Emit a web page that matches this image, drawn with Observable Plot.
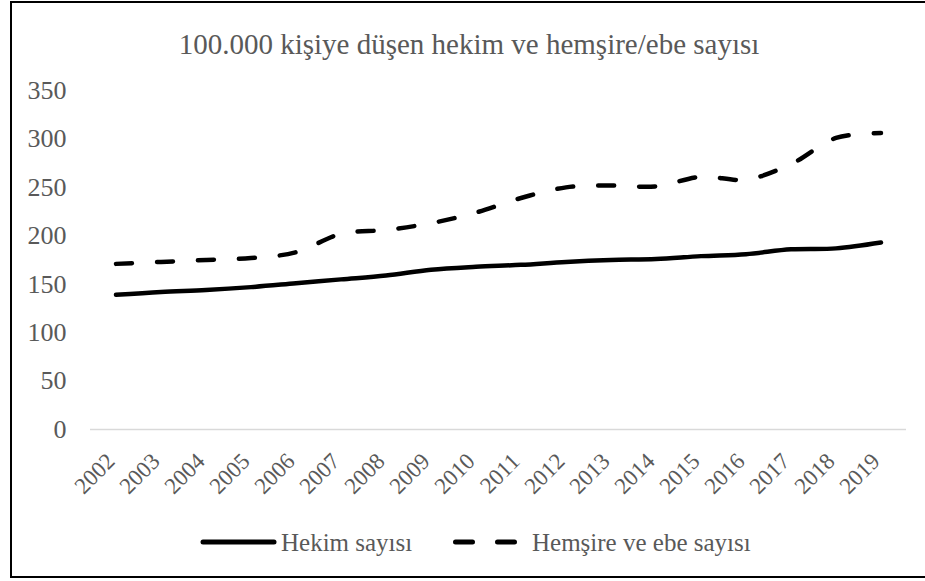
<!DOCTYPE html>
<html>
<head>
<meta charset="utf-8">
<script src="https://cdn.jsdelivr.net/npm/d3@7"></script>
<script src="https://cdn.jsdelivr.net/npm/@observablehq/plot@0.6"></script>
<style>
  html, body { margin: 0; padding: 0; background: #fff; }
  #wrap { position: relative; width: 925px; height: 581px; overflow: hidden; font-family: "Liberation Serif", serif; color: #595959; }
  #frame { position: absolute; left: 10px; top: 1px; width: 930px; height: 573px; border: 2px solid #000; }
  #title { position: absolute; left: 0; width: 938px; top: 30px; text-align: center; font-size: 29px; line-height: 28px; white-space: nowrap; }
  #chart { position: absolute; left: 0; top: 70px; }
  .leg { position: absolute; font-size: 25px; line-height: 24px; top: 531px; white-space: nowrap; }
  .sw { position: absolute; }
</style>
</head>
<body>
<div id="wrap">
  <div id="frame"></div>
  <div id="title">100.000 kişiye düşen hekim ve hemşire/ebe sayısı</div>
  <div id="chart"></div>
  <svg class="sw" style="left:200px; top:537px" width="78" height="10"><line x1="3" x2="74" y1="5" y2="5" stroke="#000" stroke-width="5" stroke-linecap="round"/></svg>
  <div class="leg" style="left:281px">Hekim sayısı</div>
  <svg class="sw" style="left:450px; top:537px" width="72" height="10"><line x1="5.5" x2="66" y1="5" y2="5" stroke="#000" stroke-width="5" stroke-linecap="round" stroke-dasharray="17,25"/></svg>
  <div class="leg" style="left:532px">Hemşire ve ebe sayısı</div>
</div>
<script>
const years = ["2002","2003","2004","2005","2006","2007","2008","2009","2010","2011","2012","2013","2014","2015","2016","2017","2018","2019"];
const hekim = [139,142,144,147,151,155,159,165,168,170,173,175,176,179,181,186,187,193];
const hemsire = [171,173,175,177,183,202,206,213,224,239,250,252,251,261,258,274,301,306];
const yTicks = [0,50,100,150,200,250,300,350];

const hekimData = years.map((y, i) => ({year: y, value: hekim[i]}));
const hemsireData = years.map((y, i) => ({year: y, value: hemsire[i]}));

const chart = Plot.plot({
  width: 925,
  height: 430,
  marginTop: 20,
  marginBottom: 71,
  marginLeft: 90,
  marginRight: 19,
  style: {fontFamily: "Liberation Serif, serif", color: "#595959", background: "transparent", overflow: "visible"},
  x: {type: "band", domain: years, padding: 0, axis: null},
  y: {domain: [0, 350], axis: null},
  marks: [
    Plot.ruleY([0], {stroke: "#d9d9d9", strokeWidth: 1.5}),
    Plot.axisY({ticks: yTicks, tickSize: 0, tickPadding: 24, fontSize: 26, label: null, tickFormat: d => String(d)}),
    Plot.axisX({tickSize: 0, tickRotate: -45, tickPadding: 28, dx: -5, fontSize: 23, label: null}),
    Plot.line(hemsireData, {x: "year", y: "value", stroke: "#000", strokeWidth: 4.5, strokeDasharray: "16,25", strokeLinecap: "round", curve: "catmull-rom"}),
    Plot.line(hekimData, {x: "year", y: "value", stroke: "#000", strokeWidth: 4.5, strokeLinecap: "round", curve: "catmull-rom"})
  ]
});
document.getElementById("chart").appendChild(chart);
</script>
</body>
</html>
